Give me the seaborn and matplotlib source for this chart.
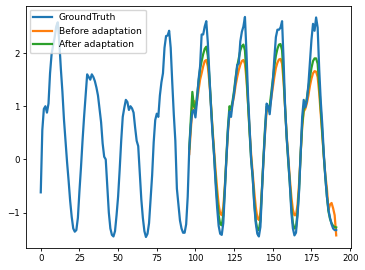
import numpy as np
import pandas as pd
import seaborn as sns
import matplotlib.pyplot as plt

# ground truth series, one value per step (0..191)
ground_truth = [
    -0.62, 0.55, 0.95, 1.00, 0.88, 1.05, 1.62, 1.98, 2.15, 2.30,
    2.50, 2.58, 2.20, 1.70, 1.27, 0.75, 0.35, -0.05, -0.40, -0.78,
    -1.08, -1.30, -1.36, -1.33, -1.10, -0.60, -0.15, 0.35, 0.80, 1.20,
    1.60, 1.55, 1.50, 1.60, 1.55, 1.47, 1.35, 1.20, 0.95, 0.70,
    0.30, 0.05, 0.00, -0.50, -1.00, -1.30, -1.42, -1.45, -1.35, -1.05,
    -0.70, -0.20, 0.35, 0.80, 0.97, 1.12, 1.08, 0.93, 1.00, 0.96,
    0.88, 0.60, 0.35, 0.25, -0.25, -0.75, -1.10, -1.35, -1.46, -1.40,
    -1.20, -0.75, -0.30, 0.32, 0.74, 0.86, 0.80, 1.20, 1.45, 1.62,
    2.10, 2.32, 2.33, 2.42, 2.10, 1.45, 0.85, 0.35, -0.55, -0.85,
    -1.15, -1.30, -1.38, -1.38, -1.22, -0.70, 0.20, 0.65, 0.90, 0.93,
    0.79, 1.10, 1.50, 1.75, 2.35, 2.35, 2.50, 2.60, 2.20, 1.59,
    1.00, 0.50, 0.10, -0.45, -0.90, -1.25, -1.40, -1.42, -1.20, -0.60,
    0.00, 0.55, 0.90, 0.80, 1.05, 1.25, 1.50, 1.78, 1.80, 2.22,
    2.40, 2.50, 2.68, 2.00, 1.20, 0.60, 0.00, -0.32, -0.85, -1.20,
    -1.40, -1.45, -1.27, -0.60, 0.00, 0.51, 1.05, 1.00, 0.85, 1.15,
    1.45, 1.90, 2.30, 2.44, 2.44, 2.48, 2.60, 1.85, 0.95, 0.40,
    0.00, -0.45, -1.00, -1.30, -1.43, -1.38, -1.05, -0.60, 0.10, 0.80,
    1.12, 0.98, 1.10, 1.40, 1.82, 2.25, 2.55, 2.42, 2.67, 2.48,
    1.70, 1.10, 0.65, 0.10, -0.35, -0.70, -0.95, -1.10, -1.22, -1.30,
    -1.33, -1.33,
]

# predictions cover the second half (steps 96..191)
pred_start = 96

before_adaptation = [
    0.10, 0.55, 0.95, 1.10, 0.95, 1.10, 1.30, 1.50, 1.62, 1.75,
    1.85, 1.87, 1.75, 1.45, 1.05, 0.60, 0.20, -0.20, -0.55, -0.85,
    -1.02, -1.05, -0.90, -0.50, 0.00, 0.50, 0.85, 0.90, 1.05, 1.20,
    1.40, 1.55, 1.68, 1.78, 1.85, 1.87, 1.80, 1.50, 1.05, 0.55,
    0.10, -0.25, -0.60, -0.90, -1.10, -1.14, -1.00, -0.55, 0.00, 0.50,
    0.90, 0.95, 0.95, 1.15, 1.35, 1.55, 1.72, 1.82, 1.88, 1.89,
    1.80, 1.45, 0.95, 0.45, 0.05, -0.35, -0.70, -0.95, -1.05, -1.05,
    -0.85, -0.45, 0.10, 0.60, 0.90, 0.95, 1.05, 1.20, 1.38, 1.52,
    1.62, 1.66, 1.65, 1.55, 1.25, 0.85, 0.45, 0.05, -0.30, -0.55,
    -0.95, -0.85, -0.82, -0.92, -1.05, -1.43,
]

after_adaptation = [
    0.20, 0.75, 1.27, 1.00, 0.95, 1.20, 1.45, 1.70, 1.85, 1.98,
    2.08, 2.12, 1.95, 1.55, 1.05, 0.55, 0.10, -0.35, -0.75, -1.05,
    -1.22, -1.24, -1.05, -0.55, 0.05, 0.60, 1.00, 0.95, 1.10, 1.30,
    1.55, 1.75, 1.90, 2.05, 2.13, 2.16, 2.05, 1.60, 1.05, 0.50,
    0.00, -0.35, -0.80, -1.15, -1.32, -1.33, -1.15, -0.55, 0.05, 0.60,
    1.00, 0.98, 1.00, 1.25, 1.50, 1.75, 1.95, 2.08, 2.16, 2.17,
    2.05, 1.55, 0.95, 0.40, -0.05, -0.45, -0.90, -1.20, -1.30, -1.28,
    -1.00, -0.55, 0.10, 0.65, 0.95, 1.00, 1.15, 1.35, 1.55, 1.72,
    1.85, 1.90, 1.90, 1.80, 1.40, 0.95, 0.50, 0.05, -0.35, -0.70,
    -0.98, -1.12, -1.20, -1.25, -1.27, -1.28,
]

steps = np.arange(len(ground_truth))
pred_steps = np.arange(pred_start, pred_start + len(before_adaptation))

plt.rcParams['font.size'] = 6.2

fig = plt.figure(figsize=(3.65, 2.70), dpi=100)
ax = fig.add_axes([0.0712, 0.0815, 0.8904, 0.8965])

lw = 1.6
sns.lineplot(x=steps, y=ground_truth, ax=ax, color='#1f77b4', linewidth=lw,
             label='GroundTruth', zorder=3)
sns.lineplot(x=pred_steps, y=before_adaptation, ax=ax, color='#ff7f0e', linewidth=lw,
             label='Before adaptation', zorder=2)
sns.lineplot(x=pred_steps, y=after_adaptation, ax=ax, color='#2ca02c', linewidth=lw,
             label='After adaptation', zorder=2)

ax.set_xticks([0, 25, 50, 75, 100, 125, 150, 175, 200])
ax.set_yticks([-1, 0, 1, 2])
ax.tick_params(length=2.5, width=0.6, pad=2)
for s in ax.spines.values():
    s.set_linewidth(0.6)
ax.legend(loc='upper left', fontsize=6.6, handlelength=2.0, borderaxespad=0.4)

fig.savefig('out.png', dpi=100)
